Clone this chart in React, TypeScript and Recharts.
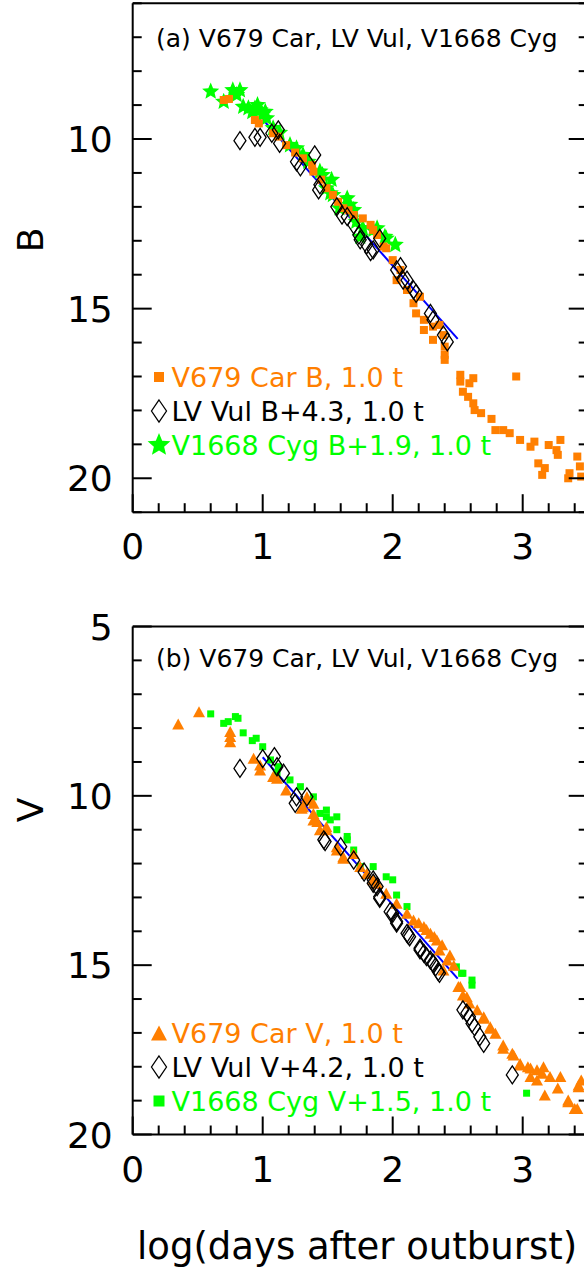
import { ScatterChart, Scatter, XAxis, YAxis, ReferenceLine, Legend } from 'recharts';

// log(days after outburst) ticks and magnitude ticks
const X_TICKS = [0, 0.2, 0.4, 0.6, 0.8, 1, 1.2, 1.4, 1.6, 1.8, 2, 2.2, 2.4, 2.6, 2.8, 3, 3.2, 3.4];
const B_TICKS = [6, 7, 8, 9, 10, 11, 12, 13, 14, 15, 16, 17, 18, 19, 20, 21];
const V_TICKS = [5, 6, 7, 8, 9, 10, 11, 12, 13, 14, 15, 16, 17, 18, 19, 20];

// (a) B band
const CAR_B_T = [0.70, 0.74, 0.94, 0.97, 1.08, 1.12, 1.18, 1.25, 1.31, 1.38, 1.39, 1.45, 1.49, 1.54, 1.58, 1.62, 1.66, 1.70, 1.77, 1.83, 1.85, 1.88, 1.93, 1.95, 2.00, 2.03, 2.06, 2.11, 2.16, 2.18, 2.21, 2.24, 2.24, 2.31, 2.31, 2.36, 2.39, 2.40, 2.40, 2.40, 2.52, 2.52, 2.54, 2.58, 2.59, 2.62, 2.62, 2.63, 2.68, 2.76, 2.79, 2.85, 2.90, 2.95, 2.98, 3.06, 3.09, 3.12, 3.15, 3.17, 3.20, 3.26, 3.27, 3.29, 3.35, 3.36, 3.42, 3.44, 3.45];
const CAR_B_MAG = [8.85, 8.82, 9.44, 9.54, 9.83, 9.93, 10.18, 10.40, 10.57, 10.77, 10.96, 11.20, 11.45, 11.65, 11.85, 12.04, 12.10, 12.24, 12.34, 12.53, 12.68, 12.83, 13.17, 13.22, 13.57, 14.16, 13.86, 14.45, 14.84, 15.14, 14.65, 15.33, 15.63, 15.53, 15.92, 15.48, 15.78, 16.12, 16.36, 16.51, 16.95, 17.15, 17.45, 17.60, 17.20, 17.05, 17.79, 17.99, 18.08, 18.25, 18.58, 18.58, 18.67, 17.00, 18.87, 19.07, 18.92, 19.56, 19.90, 19.70, 19.02, 19.17, 19.31, 18.87, 20.00, 19.85, 19.36, 19.65, 19.95];

const VUL_B_T = [0.825, 0.94, 0.98, 1.07, 1.12, 1.13, 1.26, 1.29, 1.40, 1.43, 1.44, 1.57, 1.61, 1.65, 1.70, 1.74, 1.75, 1.80, 1.83, 1.85, 1.90, 2.03, 2.06, 2.08, 2.11, 2.16, 2.18, 2.29, 2.31, 2.39, 2.42];
const VUL_B_MAG = [10.05, 9.95, 9.95, 9.83, 9.73, 10.13, 10.67, 10.82, 10.47, 11.50, 11.35, 12.00, 12.24, 12.29, 12.53, 12.83, 12.97, 13.12, 13.32, 13.27, 12.93, 13.86, 13.76, 14.16, 14.16, 14.45, 14.55, 15.14, 15.33, 15.78, 15.98];

const CYG_B_T = [0.60, 0.70, 0.77, 0.80, 0.825, 0.85, 0.89, 0.92, 0.94, 0.96, 0.98, 1.00, 1.02, 1.03, 1.08, 1.13, 1.21, 1.26, 1.31, 1.35, 1.44, 1.46, 1.49, 1.52, 1.53, 1.54, 1.59, 1.65, 1.67, 1.70, 1.72, 1.75, 1.77, 1.85, 1.88, 1.94, 1.95, 2.02];
const CYG_B_MAG = [8.60, 8.90, 8.56, 8.70, 8.56, 9.05, 9.09, 9.20, 9.10, 9.00, 9.15, 9.28, 9.20, 9.39, 9.68, 9.82, 10.18, 10.27, 10.47, 10.67, 10.96, 11.06, 11.45, 11.60, 11.20, 11.65, 12.04, 11.75, 11.94, 12.09, 12.44, 12.88, 12.63, 12.68, 12.63, 12.88, 12.93, 13.12];

const FIT_B_T = [1.0, 2.5];
const FIT_B_MAG = [9.42, 15.89];

// (b) V band
const CAR_V_T = [0.35, 0.51, 0.75, 0.75, 0.75, 0.93, 0.98, 0.98, 1.08, 1.11, 1.18, 1.30, 1.31, 1.34, 1.34, 1.39, 1.39, 1.39, 1.42, 1.44, 1.49, 1.49, 1.57, 1.57, 1.62, 1.62, 1.70, 1.75, 1.80, 1.85, 1.88, 1.95, 2.03, 2.11, 2.16, 2.20, 2.24, 2.26, 2.29, 2.32, 2.34, 2.36, 2.38, 2.39, 2.42, 2.44, 2.47, 2.505, 2.52, 2.54, 2.57, 2.59, 2.65, 2.70, 2.70, 2.75, 2.75, 2.79, 2.85, 2.85, 2.92, 2.93, 2.98, 2.98, 3.04, 3.06, 3.06, 3.11, 3.11, 3.15, 3.16, 3.17, 3.21, 3.27, 3.29, 3.35, 3.35, 3.40, 3.42, 3.43, 3.43, 3.45];
const CAR_V_MAG = [7.88, 7.52, 8.10, 8.25, 8.40, 8.89, 9.09, 9.24, 9.43, 9.48, 9.83, 10.37, 10.32, 10.12, 10.03, 10.22, 10.52, 10.71, 10.76, 11.00, 10.91, 11.00, 11.50, 11.60, 11.80, 11.84, 11.70, 12.09, 12.29, 12.48, 12.58, 12.88, 13.17, 13.47, 13.67, 13.75, 13.86, 13.95, 14.06, 14.15, 14.26, 14.55, 14.40, 15.14, 14.85, 14.70, 15.00, 15.63, 15.63, 15.88, 15.93, 16.12, 16.32, 16.52, 16.57, 16.82, 16.86, 17.01, 17.36, 17.45, 17.60, 17.65, 17.90, 17.95, 18.00, 18.04, 18.29, 18.09, 18.39, 18.19, 18.00, 18.83, 18.29, 18.63, 18.29, 18.98, 19.03, 19.23, 19.23, 18.59, 18.54, 18.39];

const VUL_V_T = [0.825, 1.00, 1.09, 1.11, 1.16, 1.25, 1.26, 1.34, 1.47, 1.48, 1.60, 1.70, 1.78, 1.85, 1.85, 1.88, 1.90, 1.90, 1.98, 2.00, 2.03, 2.03, 2.11, 2.12, 2.13, 2.21, 2.21, 2.24, 2.26, 2.29, 2.31, 2.33, 2.35, 2.36, 2.54, 2.57, 2.59, 2.61, 2.63, 2.67, 2.70, 2.92];
const VUL_V_MAG = [9.19, 8.90, 8.84, 9.14, 9.33, 10.22, 10.03, 10.03, 11.30, 11.35, 11.50, 11.90, 12.25, 12.48, 12.58, 12.68, 12.98, 13.03, 13.42, 13.47, 13.71, 13.76, 14.06, 14.11, 14.16, 14.50, 14.55, 14.65, 14.75, 14.85, 14.94, 15.05, 15.19, 15.24, 16.32, 16.42, 16.52, 16.72, 16.82, 17.11, 17.31, 18.24];

const CYG_V_T = [0.60, 0.70, 0.735, 0.79, 0.81, 0.85, 0.92, 0.95, 1.00, 1.06, 1.11, 1.12, 1.21, 1.29, 1.39, 1.44, 1.49, 1.49, 1.52, 1.57, 1.57, 1.65, 1.65, 1.70, 1.75, 1.85, 1.95, 2.00, 2.03, 2.11, 2.49, 2.53, 2.54, 2.61, 2.61, 3.03];
const CYG_V_MAG = [7.58, 7.86, 7.81, 7.66, 7.71, 8.14, 8.37, 8.30, 8.55, 8.94, 9.33, 9.14, 9.53, 9.73, 10.03, 10.52, 10.42, 10.62, 10.71, 10.62, 11.00, 11.20, 11.30, 11.60, 12.09, 12.09, 12.39, 12.48, 12.93, 13.27, 15.05, 15.24, 15.24, 15.44, 15.59, 18.78];

const FIT_V_T = [1.0, 2.5];
const FIT_V_MAG = [8.86, 15.40];

const ORANGE = '#ff7f00';
const GREEN = '#00ff00';
const BLUE = '#0000ff';
const FONT = '"DejaVu Sans", sans-serif';

const zip = (xs: number[], ys: number[]) => xs.map((x, i) => ({ x, y: ys[i] }));

// marker shapes
const square = (s: number, color: string) => (p: any) => (
  <rect x={p.cx - s / 2} y={p.cy - s / 2} width={s} height={s} fill={color} />
);
const diamond = (w: number, h: number) => (p: any) => (
  <path
    d={`M${p.cx},${p.cy - h} L${p.cx + w},${p.cy} L${p.cx},${p.cy + h} L${p.cx - w},${p.cy} Z`}
    fill="none"
    stroke="#000"
    strokeWidth={1.3}
  />
);
const starPath = (cx: number, cy: number, r: number) => {
  const pts: string[] = [];
  for (let i = 0; i < 10; i++) {
    const rad = i % 2 === 0 ? r : r * 0.45;
    const a = -Math.PI / 2 + (i * Math.PI) / 5;
    pts.push(`${cx + rad * Math.cos(a)},${cy + rad * Math.sin(a)}`);
  }
  return `M${pts.join('L')}Z`;
};
const star = (r: number) => (p: any) => <path d={starPath(p.cx, p.cy, r)} fill={GREEN} />;
const triangle = (w: number, h: number) => (p: any) => (
  <path d={`M${p.cx},${p.cy - h / 2} L${p.cx + w / 2},${p.cy + h / 2} L${p.cx - w / 2},${p.cy + h / 2} Z`} fill={ORANGE} />
);

const isMajorX = (v: number) => Math.abs(v - Math.round(v)) < 1e-6;
const isMajorY = (v: number) => v % 5 === 0;

const BottomTick = (p: any) => {
  const major = isMajorX(p.payload.value);
  return (
    <g>
      <line x1={p.x} x2={p.x} y1={p.y} y2={p.y - (major ? 18 : 9)} stroke="#000" strokeWidth={2} />
      {major && (
        <text x={p.x} y={p.y + 47} textAnchor="middle" fontSize={36} fontFamily={FONT} fill="#000">
          {p.payload.value}
        </text>
      )}
    </g>
  );
};
const TopTick = (p: any) => {
  const major = isMajorX(p.payload.value);
  return <line x1={p.x} x2={p.x} y1={p.y} y2={p.y + (major ? 18 : 9)} stroke="#000" strokeWidth={2} />;
};
const LeftTick = (p: any) => {
  const major = isMajorY(p.payload.value);
  return (
    <g>
      <line x1={p.x} x2={p.x + (major ? 19 : 9)} y1={p.y} y2={p.y} stroke="#000" strokeWidth={2} />
      {major && (
        <text x={p.x - 20} y={p.y + 13} textAnchor="end" fontSize={36} fontFamily={FONT} fill="#000">
          {p.payload.value}
        </text>
      )}
    </g>
  );
};
const RightTick = (p: any) => {
  const major = isMajorY(p.payload.value);
  return <line x1={p.x} x2={p.x - (major ? 19 : 9)} y1={p.y} y2={p.y} stroke="#000" strokeWidth={2} />;
};

const AXIS_LINE = { stroke: '#000', strokeWidth: 2 };

const legendContent = (order: string[], icons: Record<string, (p: any) => any>) => (props: any) => {
  const items = [...(props.payload || [])]
    .filter((e: any) => order.includes(e.value))
    .sort((a: any, b: any) => order.indexOf(a.value) - order.indexOf(b.value));
  return (
    <svg width={440} height={34 * items.length}>
      {items.map((e: any, i: number) => (
        <g key={e.value}>
          {icons[e.value]({ cx: 12, cy: 17 + 34 * i })}
          <text x={24.5} y={17 + 34 * i + 10} fontSize={27} fontFamily={FONT} fill={e.color}>
            {e.value}
          </text>
        </g>
      ))}
    </svg>
  );
};

const axes = (domain: [number, number], yTicks: number[]) => [
  <XAxis key="xb" dataKey="x" type="number" domain={[0, 3.5]} ticks={X_TICKS} interval={0} tickSize={0} tickMargin={0} tick={BottomTick} axisLine={AXIS_LINE} tickLine={false} height={1} allowDataOverflow />,
  <XAxis key="xt" xAxisId="top" orientation="top" type="number" domain={[0, 3.5]} ticks={X_TICKS} interval={0} tickSize={0} tickMargin={0} tick={TopTick} axisLine={AXIS_LINE} tickLine={false} height={1} allowDataOverflow />,
  <YAxis key="yl" dataKey="y" type="number" reversed domain={domain} ticks={yTicks} interval={0} tickSize={0} tickMargin={0} tick={LeftTick} axisLine={AXIS_LINE} tickLine={false} width={1} allowDataOverflow />,
  <YAxis key="yr" yAxisId="right" orientation="right" type="number" reversed domain={domain} ticks={yTicks} interval={0} tickSize={0} tickMargin={0} tick={RightTick} axisLine={AXIS_LINE} tickLine={false} width={1} allowDataOverflow />,
];

const NAMES_A = ['V679 Car B, 1.0 t', 'LV Vul B+4.3, 1.0 t', 'V1668 Cyg B+1.9, 1.0 t'];
const NAMES_B = ['V679 Car V, 1.0 t', 'LV Vul V+4.2, 1.0 t', 'V1668 Cyg V+1.5, 1.0 t'];

const App = () => {
  const fitB = zip(FIT_B_T, FIT_B_MAG);
  const fitV = zip(FIT_V_T, FIT_V_MAG);
  return (
    <div style={{ position: 'absolute', left: 0, top: 0, width: 584, height: 1274, overflow: 'hidden', background: '#fff' }}>
      <div style={{ position: 'absolute', left: 0, top: 0 }}>
        <ScatterChart width={640} height={600} margin={{ top: 2.3, right: 51.3, bottom: 86.8, left: 131.7 }}>
          {axes([6, 21], B_TICKS)}
          <Scatter name={NAMES_A[2]} data={zip(CYG_B_T, CYG_B_MAG)} fill={GREEN} shape={star(9)} isAnimationActive={false} />
          <Scatter name={NAMES_A[0]} data={zip(CAR_B_T, CAR_B_MAG)} fill={ORANGE} shape={square(8, ORANGE)} isAnimationActive={false} />
          <Scatter name={NAMES_A[1]} data={zip(VUL_B_T, VUL_B_MAG)} fill="#000" shape={diamond(6, 9)} isAnimationActive={false} />
          <ReferenceLine segment={[fitB[0], fitB[1]]} stroke={BLUE} strokeWidth={2} ifOverflow="visible" />
          <Legend
            layout="vertical"
            align="center"
            verticalAlign="middle"
            wrapperStyle={{ left: 147, top: 359.5, width: 440, height: 102 }}
            content={legendContent(NAMES_A, {
              [NAMES_A[0]]: square(10, ORANGE),
              [NAMES_A[1]]: diamond(7.5, 11),
              [NAMES_A[2]]: star(12),
            })}
          />
          <text x={156} y={47} fontSize={25} fontFamily={FONT} fill="#000">(a) V679 Car, LV Vul, V1668 Cyg</text>
          <text x={30} y={240} fontSize={36} fontFamily={FONT} textAnchor="middle" transform="rotate(-90 30 240)" dy={13} fill="#000">B</text>
        </ScatterChart>
      </div>
      <div style={{ position: 'absolute', left: 0, top: 600 }}>
        <ScatterChart width={640} height={674} margin={{ top: 25.5, right: 51.3, bottom: 138.5, left: 131.7 }}>
          {axes([5, 20], V_TICKS)}
          <Scatter name={NAMES_B[2]} data={zip(CYG_V_T, CYG_V_MAG)} fill={GREEN} shape={square(7, GREEN)} isAnimationActive={false} />
          <Scatter name={NAMES_B[0]} data={zip(CAR_V_T, CAR_V_MAG)} fill={ORANGE} shape={triangle(12, 11)} isAnimationActive={false} />
          <Scatter name={NAMES_B[1]} data={zip(VUL_V_T, VUL_V_MAG)} fill="#000" shape={diamond(6, 9)} isAnimationActive={false} />
          <ReferenceLine segment={[fitV[0], fitV[1]]} stroke={BLUE} strokeWidth={2} ifOverflow="visible" />
          <Legend
            layout="vertical"
            align="center"
            verticalAlign="middle"
            wrapperStyle={{ left: 147, top: 416, width: 440, height: 102 }}
            content={legendContent(NAMES_B, {
              [NAMES_B[0]]: triangle(16, 15),
              [NAMES_B[1]]: diamond(7.5, 11),
              [NAMES_B[2]]: square(11, GREEN),
            })}
          />
          <text x={156} y={67} fontSize={25} fontFamily={FONT} fill="#000">(b) V679 Car, LV Vul, V1668 Cyg</text>
          <text x={30} y={210} fontSize={36} fontFamily={FONT} textAnchor="middle" transform="rotate(-90 30 210)" dy={13} fill="#000">V</text>
          <text x={137} y={659} fontSize={37} fontFamily={FONT} fill="#000">log(days after outburst)</text>
        </ScatterChart>
      </div>
    </div>
  );
};

export default App;
